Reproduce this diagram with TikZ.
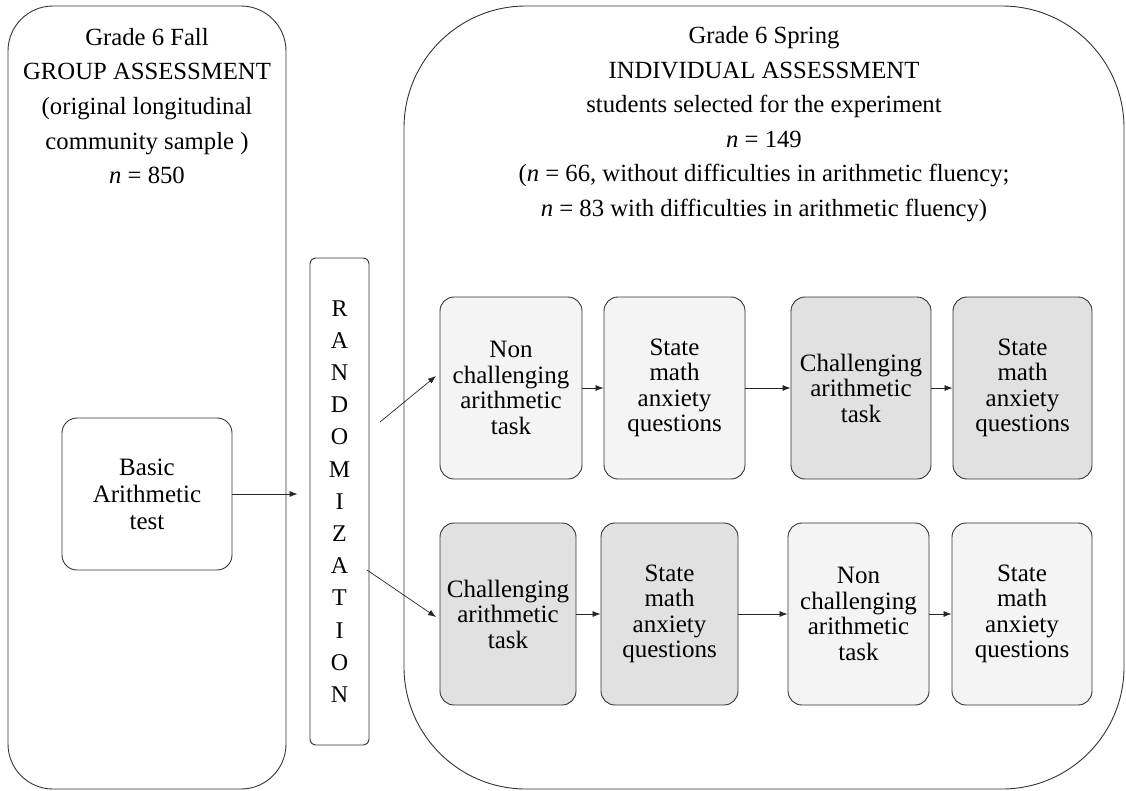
\documentclass[tikz,border=0pt]{standalone}
\usepackage{fontspec}
\setmainfont{Liberation Serif}
\usetikzlibrary{arrows.meta}
\definecolor{lightfill}{HTML}{F4F4F4}
\definecolor{darkfill}{HTML}{E1E1E2}
\definecolor{edge}{HTML}{333333}
\begin{document}
\begin{tikzpicture}[x=1pt,y=-1pt,
  bigbox/.style={draw=edge, line width=0.9pt},
  stepbox/.style={draw=edge, line width=0.9pt, rounded corners=14pt, minimum height=182pt,
    align=center, inner sep=0pt, font=\fontsize{25}{25.5}\selectfont},
  light/.style={fill=lightfill},
  dark/.style={fill=darkfill},
  arr/.style={-{Latex[length=8pt,width=6pt]}, line width=0.7pt, draw=black!85},
  head/.style={align=center, font=\fontsize{24.7}{34.6}\selectfont}
]
\useasboundingbox (0,0) rectangle (1126,790);
% big boxes
\draw[bigbox, rounded corners=45pt] (8,6) rectangle (286,789);
\draw[bigbox, rounded corners=122pt] (404,6) rectangle (1124,789);
% headers
\node[head] (lefthead) at (147,106) {Grade 6 Fall\\GROUP ASSESSMENT\\(original longitudinal\\community sample )\\\textit{n} = 850};
\node[head] (righthead) at (764,124) {Grade 6 Spring\\INDIVIDUAL ASSESSMENT\\students selected for the experiment\\\textit{n} = 149\\(\textit{n} = 66, without difficulties in arithmetic fluency;\\\textit{n} = 83 with difficulties in arithmetic fluency)};
% basic test
\node[draw=edge, line width=0.9pt, rounded corners=15pt, minimum width=170pt, minimum height=152pt,
  align=center, font=\fontsize{25}{27}\selectfont] (basic) at (147,494) {Basic\\Arithmetic\\test};
% randomization
\node[draw=edge, line width=0.9pt, rounded corners=6pt, minimum width=59pt, minimum height=487pt,
  align=center, inner sep=0pt, font=\fontsize{24}{32.2}\selectfont] (rand) at (339.5,501.5)
  {R\\A\\N\\D\\O\\M\\I\\Z\\A\\T\\I\\O\\N};
% top row
\node[stepbox, light, minimum width=142pt] (a1) at (511,388) {Non\\challenging\\arithmetic\\task};
\node[stepbox, light, minimum width=141pt] (a2) at (674.5,388) {State\\math\\anxiety\\questions};
\node[stepbox, dark, minimum width=140pt] (a3) at (861,388) {Challenging\\arithmetic\\task};
\node[stepbox, dark, minimum width=139pt] (a4) at (1022.5,388) {State\\math\\anxiety\\questions};
% bottom row
\node[stepbox, dark, minimum width=136pt] (b1) at (508,614) {Challenging\\arithmetic\\task};
\node[stepbox, dark, minimum width=137pt] (b2) at (669.5,614) {State\\math\\anxiety\\questions};
\node[stepbox, light, minimum width=141pt] (b3) at (858.5,614) {Non\\challenging\\arithmetic\\task};
\node[stepbox, light, minimum width=140pt] (b4) at (1022,614) {State\\math\\anxiety\\questions};
% arrows
\draw[arr, shorten >=12pt] (basic.east) -- (basic.east -| rand.west);
\coordinate (u1) at (380,422);
\coordinate (u2) at (436,376);
\coordinate (l1) at (367,570);
\coordinate (l2) at (436,617);
\draw[arr] (u1) -- (u2);
\draw[arr] (l1) -- (l2);
\draw[arr] (a1) -- (a2);
\draw[arr] (a2) -- (a3);
\draw[arr] (a3) -- (a4);
\draw[arr] (b1) -- (b2);
\draw[arr] (b2) -- (b3);
\draw[arr] (b3) -- (b4);
\end{tikzpicture}
\end{document}
